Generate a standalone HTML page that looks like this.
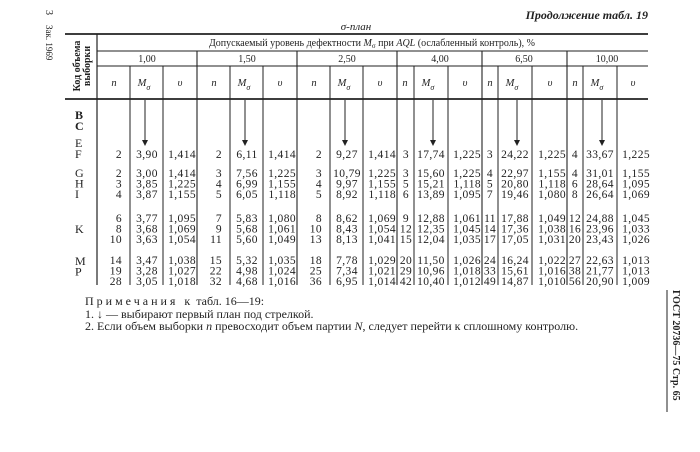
<!DOCTYPE html>
<html><head><meta charset="utf-8"><style>
html,body{margin:0;padding:0;background:#fff;width:700px;height:452px;overflow:hidden}
svg{display:block}
text{font-family:"Liberation Serif","DejaVu Serif",serif;fill:#222}
.d text{letter-spacing:0.4px}
</style></head><body>
<svg width="700" height="452" viewBox="0 0 700 452" xmlns="http://www.w3.org/2000/svg">
<g stroke="#222" fill="none">
<line x1="65" y1="34" x2="648" y2="34" stroke-width="1.8"/>
<line x1="65" y1="99" x2="648" y2="99" stroke-width="1.8"/>
<line x1="97" y1="51" x2="648" y2="51" stroke-width="1"/>
<line x1="97" y1="66" x2="648" y2="66" stroke-width="1"/>
<line x1="97" y1="34" x2="97" y2="285" stroke-width="1.2"/>
<g stroke-width="1.1">
<line x1="197" y1="51" x2="197" y2="285"/><line x1="297" y1="51" x2="297" y2="285"/>
<line x1="397" y1="51" x2="397" y2="285"/><line x1="482" y1="51" x2="482" y2="285"/>
<line x1="567" y1="51" x2="567" y2="285"/>
</g>
<g stroke-width="1">
<line x1="130" y1="66" x2="130" y2="285"/><line x1="163" y1="66" x2="163" y2="285"/>
<line x1="230" y1="66" x2="230" y2="285"/><line x1="263" y1="66" x2="263" y2="285"/>
<line x1="330" y1="66" x2="330" y2="285"/><line x1="363" y1="66" x2="363" y2="285"/>
<line x1="414" y1="66" x2="414" y2="285"/><line x1="448" y1="66" x2="448" y2="285"/>
<line x1="498" y1="66" x2="498" y2="285"/><line x1="532" y1="66" x2="532" y2="285"/>
<line x1="583" y1="66" x2="583" y2="285"/><line x1="617" y1="66" x2="617" y2="285"/>
</g>
<g stroke-width="1">
<line x1="145" y1="100" x2="145" y2="143"/><line x1="245" y1="100" x2="245" y2="143"/>
<line x1="345" y1="100" x2="345" y2="143"/><line x1="433" y1="100" x2="433" y2="143"/>
<line x1="517" y1="100" x2="517" y2="143"/><line x1="602" y1="100" x2="602" y2="143"/>
</g>
<line x1="667" y1="290" x2="667" y2="412" stroke-width="1"/>
</g>
<g fill="#222">
<path d="M142 140 L145 146 L148 140Z"/><path d="M242 140 L245 146 L248 140Z"/>
<path d="M342 140 L345 146 L348 140Z"/><path d="M430 140 L433 146 L436 140Z"/>
<path d="M514 140 L517 146 L520 140Z"/><path d="M599 140 L602 146 L605 140Z"/>
</g>
<text x="648" y="19" font-size="12" font-style="italic" text-anchor="end" font-weight="bold">Продолжение табл. 19</text>
<text x="356" y="30" font-size="11" text-anchor="middle" font-style="italic">σ-план</text>
<text x="372" y="46" font-size="10" text-anchor="middle">Допускаемый уровень дефектности <tspan font-style="italic">M</tspan><tspan font-size="7" dy="2">σ</tspan><tspan dy="-2"> при </tspan><tspan font-style="italic">AQL</tspan> (ослабленный контроль), %</text>
<g font-size="10" text-anchor="middle">
<text x="147" y="62">1,00</text><text x="247" y="62">1,50</text><text x="347" y="62">2,50</text>
<text x="440" y="62">4,00</text><text x="524" y="62">6,50</text><text x="607" y="62">10,00</text>
</g>
<g font-size="10.5" font-style="italic" text-anchor="middle">
<text x="114" y="86">n</text><text x="144" y="86">M<tspan font-size="8" dy="4">σ</tspan></text><text x="180" y="86">υ</text>
<text x="214" y="86">n</text><text x="244" y="86">M<tspan font-size="8" dy="4">σ</tspan></text><text x="280" y="86">υ</text>
<text x="314" y="86">n</text><text x="344" y="86">M<tspan font-size="8" dy="4">σ</tspan></text><text x="380" y="86">υ</text>
<text x="405" y="86">n</text><text x="428" y="86">M<tspan font-size="8" dy="4">σ</tspan></text><text x="465" y="86">υ</text>
<text x="490" y="86">n</text><text x="512" y="86">M<tspan font-size="8" dy="4">σ</tspan></text><text x="550" y="86">υ</text>
<text x="575" y="86">n</text><text x="597" y="86">M<tspan font-size="8" dy="4">σ</tspan></text><text x="633" y="86">υ</text>
</g>
<text transform="translate(80,66) rotate(-90)" font-size="10" font-weight="bold" text-anchor="middle" font-family="Liberation Sans">Код объема</text>
<text transform="translate(90,66) rotate(-90)" font-size="10" font-weight="bold" text-anchor="middle" font-family="Liberation Sans">выборки</text>
<text transform="translate(46,10) rotate(90)" font-size="10">3</text>
<text transform="translate(46,25) rotate(90)" font-size="9">Зак. 1969</text>
<text transform="translate(673,290) rotate(90)" font-size="10" font-weight="bold" font-family="Liberation Sans">ГОСТ  20736—75  Стр.  65</text>
<g font-size="12">
<text x="75" y="119" font-family="Liberation Sans" font-weight="bold">B</text>
<text x="75" y="130" font-family="Liberation Sans" font-weight="bold">C</text>
<text x="75" y="147">E</text><text x="75" y="158">F</text>
<text x="75" y="177">G</text><text x="75" y="187.5">H</text><text x="75" y="198">I</text>
<text x="75" y="233">K</text><text x="75" y="265">M</text><text x="75" y="275.5">P</text>
</g>
<g font-size="11.5" class="d">
<g text-anchor="end">
<text x="122" y="158">2</text><text x="122" y="177">2</text><text x="122" y="187.5">3</text><text x="122" y="198">4</text>
<text x="122" y="222">6</text><text x="122" y="232.5">8</text><text x="122" y="243">10</text>
<text x="122" y="264">14</text><text x="122" y="274.5">19</text><text x="122" y="285">28</text>
<text x="222" y="158">2</text><text x="222" y="177">3</text><text x="222" y="187.5">4</text><text x="222" y="198">5</text>
<text x="222" y="222">7</text><text x="222" y="232.5">9</text><text x="222" y="243">11</text>
<text x="222" y="264">15</text><text x="222" y="274.5">22</text><text x="222" y="285">32</text>
<text x="322" y="158">2</text><text x="322" y="177">3</text><text x="322" y="187.5">4</text><text x="322" y="198">5</text>
<text x="322" y="222">8</text><text x="322" y="232.5">10</text><text x="322" y="243">13</text>
<text x="322" y="264">18</text><text x="322" y="274.5">25</text><text x="322" y="285">36</text>
<text x="196" y="158">1,414</text><text x="196" y="177">1,414</text><text x="196" y="187.5">1,225</text><text x="196" y="198">1,155</text>
<text x="196" y="222">1,095</text><text x="196" y="232.5">1,069</text><text x="196" y="243">1,054</text>
<text x="196" y="264">1,038</text><text x="196" y="274.5">1,027</text><text x="196" y="285">1,018</text>
<text x="296" y="158">1,414</text><text x="296" y="177">1,225</text><text x="296" y="187.5">1,155</text><text x="296" y="198">1,118</text>
<text x="296" y="222">1,080</text><text x="296" y="232.5">1,061</text><text x="296" y="243">1,049</text>
<text x="296" y="264">1,035</text><text x="296" y="274.5">1,024</text><text x="296" y="285">1,016</text>
<text x="396" y="158">1,414</text><text x="396" y="177">1,225</text><text x="396" y="187.5">1,155</text><text x="396" y="198">1,118</text>
<text x="396" y="222">1,069</text><text x="396" y="232.5">1,054</text><text x="396" y="243">1,041</text>
<text x="396" y="264">1,029</text><text x="396" y="274.5">1,021</text><text x="396" y="285">1,014</text>
<text x="481" y="158">1,225</text><text x="481" y="177">1,225</text><text x="481" y="187.5">1,118</text><text x="481" y="198">1,095</text>
<text x="481" y="222">1,061</text><text x="481" y="232.5">1,045</text><text x="481" y="243">1,035</text>
<text x="481" y="264">1,026</text><text x="481" y="274.5">1,018</text><text x="481" y="285">1,012</text>
<text x="566" y="158">1,225</text><text x="566" y="177">1,155</text><text x="566" y="187.5">1,118</text><text x="566" y="198">1,080</text>
<text x="566" y="222">1,049</text><text x="566" y="232.5">1,038</text><text x="566" y="243">1,031</text>
<text x="566" y="264">1,022</text><text x="566" y="274.5">1,016</text><text x="566" y="285">1,010</text>
<text x="650" y="158">1,225</text><text x="650" y="177">1,155</text><text x="650" y="187.5">1,095</text><text x="650" y="198">1,069</text>
<text x="650" y="222">1,045</text><text x="650" y="232.5">1,033</text><text x="650" y="243">1,026</text>
<text x="650" y="264">1,013</text><text x="650" y="274.5">1,013</text><text x="650" y="285">1,009</text>
</g>
<g text-anchor="middle">
<text x="147" y="158">3,90</text><text x="147" y="177">3,00</text><text x="147" y="187.5">3,85</text><text x="147" y="198">3,87</text>
<text x="147" y="222">3,77</text><text x="147" y="232.5">3,68</text><text x="147" y="243">3,63</text>
<text x="147" y="264">3,47</text><text x="147" y="274.5">3,28</text><text x="147" y="285">3,05</text>
<text x="247" y="158">6,11</text><text x="247" y="177">7,56</text><text x="247" y="187.5">6,99</text><text x="247" y="198">6,05</text>
<text x="247" y="222">5,83</text><text x="247" y="232.5">5,68</text><text x="247" y="243">5,60</text>
<text x="247" y="264">5,32</text><text x="247" y="274.5">4,98</text><text x="247" y="285">4,68</text>
<text x="347" y="158">9,27</text><text x="347" y="177">10,79</text><text x="347" y="187.5">9,97</text><text x="347" y="198">8,92</text>
<text x="347" y="222">8,62</text><text x="347" y="232.5">8,43</text><text x="347" y="243">8,13</text>
<text x="347" y="264">7,78</text><text x="347" y="274.5">7,34</text><text x="347" y="285">6,95</text>
<text x="406" y="158">3</text><text x="406" y="177">3</text><text x="406" y="187.5">5</text><text x="406" y="198">6</text>
<text x="406" y="222">9</text><text x="406" y="232.5">12</text><text x="406" y="243">15</text>
<text x="406" y="264">20</text><text x="406" y="274.5">29</text><text x="406" y="285">42</text>
<text x="431" y="158">17,74</text><text x="431" y="177">15,60</text><text x="431" y="187.5">15,21</text><text x="431" y="198">13,89</text>
<text x="431" y="222">12,88</text><text x="431" y="232.5">12,35</text><text x="431" y="243">12,04</text>
<text x="431" y="264">11,50</text><text x="431" y="274.5">10,96</text><text x="431" y="285">10,40</text>
<text x="490" y="158">3</text><text x="490" y="177">4</text><text x="490" y="187.5">5</text><text x="490" y="198">7</text>
<text x="490" y="222">11</text><text x="490" y="232.5">14</text><text x="490" y="243">17</text>
<text x="490" y="264">24</text><text x="490" y="274.5">33</text><text x="490" y="285">49</text>
<text x="515" y="158">24,22</text><text x="515" y="177">22,97</text><text x="515" y="187.5">20,80</text><text x="515" y="198">19,46</text>
<text x="515" y="222">17,88</text><text x="515" y="232.5">17,36</text><text x="515" y="243">17,05</text>
<text x="515" y="264">16,24</text><text x="515" y="274.5">15,61</text><text x="515" y="285">14,87</text>
<text x="575" y="158">4</text><text x="575" y="177">4</text><text x="575" y="187.5">6</text><text x="575" y="198">8</text>
<text x="575" y="222">12</text><text x="575" y="232.5">16</text><text x="575" y="243">20</text>
<text x="575" y="264">27</text><text x="575" y="274.5">38</text><text x="575" y="285">56</text>
<text x="600" y="158">33,67</text><text x="600" y="177">31,01</text><text x="600" y="187.5">28,64</text><text x="600" y="198">26,64</text>
<text x="600" y="222">24,88</text><text x="600" y="232.5">23,96</text><text x="600" y="243">23,43</text>
<text x="600" y="264">22,63</text><text x="600" y="274.5">21,77</text><text x="600" y="285">20,90</text>
</g>
</g>
<g font-size="12">
<text x="85" y="305"><tspan letter-spacing="3">Примечания к</tspan> табл. 16—19:</text>
<text x="85" y="318">1. ↓ — выбирают первый план под стрелкой.</text>
<text x="85" y="330">2. Если объем выборки <tspan font-style="italic">n</tspan> превосходит объем партии <tspan font-style="italic">N</tspan>, следует перейти  к сплошному контролю.</text>
</g>
</svg>
</body></html>
